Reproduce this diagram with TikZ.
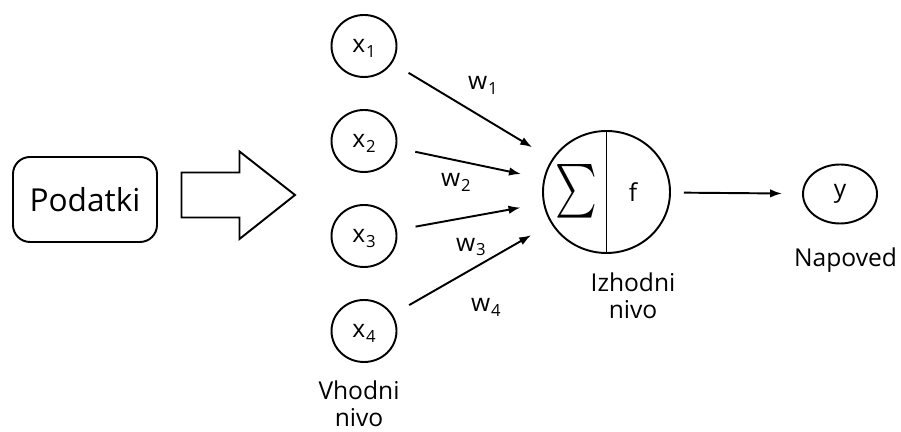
\documentclass[tikz,border=0pt]{standalone}
\usepackage{fontspec}
\setmainfont{Open Sans}
\usetikzlibrary{arrows.meta, shapes.geometric, positioning}

% index set low and small, as in x_1, w_1
\newcommand{\idx}[1]{\kern0.5pt\raisebox{-2.8pt}{\fontsize{9.5}{10}\selectfont #1}}

\begin{document}
\begin{tikzpicture}[
    inputNode/.style={ellipse, draw, line width=1.1pt, minimum width=1.3cm, minimum height=1.24cm, inner sep=0pt, font=\fontsize{14}{16}\selectfont}, % neuron circle
    weightArrow/.style={line width=1.1pt, -{Latex[length=2.4mm, width=1.7mm]}, shorten <=0.38cm, shorten >=0.46cm}, % weighted connection
    weightLabel/.style={inner sep=0pt, font=\fontsize{14}{16}\selectfont}, % w_i next to a connection
    layerLabel/.style={align=center, inner sep=0pt, font=\fontsize{14}{15.4}\selectfont}, % caption under a layer
]
    \useasboundingbox (0,0) rectangle (18.02,8.64);

    % 1. data box and the block arrow into the input layer
    \node[draw, line width=1.1pt, rounded corners=0.34cm, minimum width=2.88cm, minimum height=1.7cm, font=\fontsize{18}{20}\selectfont] (data) at (1.7,4.65) {Podatki};
    \draw[line width=1.1pt] (3.63,5.19) -- (4.79,5.19) -- (4.79,5.61) -- (5.9,4.74) -- (4.79,3.86) -- (4.79,4.29) -- (3.63,4.29) -- cycle;

    % 2. input layer
    \foreach \i/\y in {1/7.72, 2/5.82, 3/3.92, 4/2.02}
        \node[inputNode, text depth=-1pt] (x\i) at (7.28,\y) {x\idx{\i}};

    % 3. output neuron: sum | activation
    \node[ellipse, draw, line width=1.1pt, minimum width=2.54cm, minimum height=2.44cm] (sum) at (12.13,4.8) {};
    \draw[line width=1.1pt] (sum.north) -- (sum.south);
    \node (sigma) at (11.53,4.82) {\scalebox{2.25}[3.05]{$\sum$}};
    \node[font=\fontsize{14}{16}\selectfont] (act) at (12.66,4.8) {f};

    % 4. prediction
    \node[inputNode, minimum width=1.48cm, minimum height=1.18cm] (y) at (16.8,4.76) {y};

    % 5. connections
    \foreach \i in {1,...,4}
        \draw[weightArrow] (x\i) -- (sum);
    \draw[weightArrow, shorten <=0.26cm, shorten >=0.4cm] (sum) -- (y);

    % 6. weights
    \node[weightLabel] (w1) at (9.66,6.94) {w\idx{1}};
    \node[weightLabel] (w2) at (9.12,5.0) {w\idx{2}};
    \node[weightLabel] (w3) at (9.42,3.7) {w\idx{3}};
    \node[weightLabel] (w4) at (9.72,2.5) {w\idx{4}};

    % 7. captions
    \node[layerLabel] (inLayer) at (7.18,0.57) {Vhodni\\nivo};
    \node[layerLabel] (outLayer) at (12.66,2.72) {Izhodni\\nivo};
    \node[layerLabel] (pred) at (16.91,3.44) {Napoved};
\end{tikzpicture}
\end{document}
